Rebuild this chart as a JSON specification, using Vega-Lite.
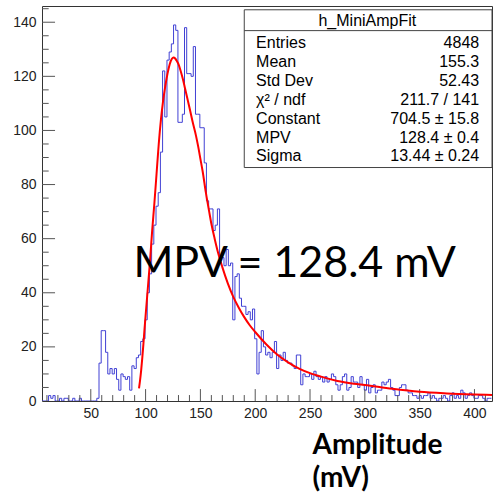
{
"$schema": "https://vega.github.io/schema/vega-lite/v6.json",
"width": 450, "height": 395,
"autosize": {"type": "none"},
"padding": {"left": 42, "top": 6, "right": 1, "bottom": 97},
"background": "white",
"config": {"view": {"stroke": "#333", "strokeWidth": 1}, "font": "Liberation Sans"},
"resolve": {"axis": {"x": "independent", "y": "independent"}},
"datasets": {
"hist": [
{"lo":5.5,"n":0},{"lo":7.5,"n":0},{"lo":9.5,"n":0},{"lo":11.5,"n":2},{"lo":13.5,"n":1},{"lo":15.5,"n":2},{"lo":17.5,"n":0},{"lo":19.5,"n":0},{"lo":21.5,"n":1},{"lo":23.5,"n":0},{"lo":25.5,"n":1},{"lo":27.5,"n":1},{"lo":29.5,"n":0},{"lo":31.5,"n":0},{"lo":33.5,"n":1},{"lo":35.5,"n":0},{"lo":37.5,"n":0},{"lo":39.5,"n":1},{"lo":41.5,"n":0},{"lo":43.5,"n":0},{"lo":45.5,"n":0},{"lo":47.5,"n":0},{"lo":49.5,"n":0},{"lo":51.5,"n":0},{"lo":53.5,"n":0},{"lo":55.5,"n":1},{"lo":57.5,"n":14},{"lo":59.5,"n":26},{"lo":61.5,"n":26},{"lo":63.5,"n":18},{"lo":65.5,"n":10},{"lo":67.5,"n":12},{"lo":69.5,"n":10},{"lo":71.5,"n":12},{"lo":73.5,"n":8},{"lo":75.5,"n":4},{"lo":77.5,"n":10},{"lo":79.5,"n":9},{"lo":81.5,"n":8},{"lo":83.5,"n":9},{"lo":85.5,"n":4},{"lo":87.5,"n":13},{"lo":89.5,"n":12},{"lo":91.5,"n":16},{"lo":93.5,"n":17},{"lo":95.5,"n":22},{"lo":97.5,"n":23},{"lo":99.5,"n":30},{"lo":101.5,"n":40},{"lo":103.5,"n":47},{"lo":105.5,"n":58},{"lo":107.5,"n":65},{"lo":109.5,"n":72},{"lo":111.5,"n":77},{"lo":113.5,"n":92},{"lo":115.5,"n":122},{"lo":117.5,"n":105},{"lo":119.5,"n":126},{"lo":121.5,"n":129},{"lo":123.5,"n":132},{"lo":125.5,"n":139},{"lo":127.5,"n":137},{"lo":129.5,"n":103},{"lo":131.5,"n":103},{"lo":133.5,"n":106},{"lo":135.5,"n":138},{"lo":137.5,"n":121},{"lo":139.5,"n":121},{"lo":141.5,"n":120},{"lo":143.5,"n":131},{"lo":145.5,"n":106},{"lo":147.5,"n":106},{"lo":149.5,"n":101},{"lo":151.5,"n":101},{"lo":153.5,"n":88},{"lo":155.5,"n":74},{"lo":157.5,"n":71},{"lo":159.5,"n":71},{"lo":161.5,"n":63},{"lo":163.5,"n":65},{"lo":165.5,"n":71},{"lo":167.5,"n":52},{"lo":169.5,"n":53},{"lo":171.5,"n":50},{"lo":173.5,"n":56},{"lo":175.5,"n":50},{"lo":177.5,"n":51},{"lo":179.5,"n":30},{"lo":181.5,"n":46},{"lo":183.5,"n":47},{"lo":185.5,"n":38},{"lo":187.5,"n":35},{"lo":189.5,"n":35},{"lo":191.5,"n":32},{"lo":193.5,"n":33},{"lo":195.5,"n":30},{"lo":197.5,"n":34},{"lo":199.5,"n":23},{"lo":201.5,"n":10},{"lo":203.5,"n":18},{"lo":205.5,"n":26},{"lo":207.5,"n":20},{"lo":209.5,"n":17},{"lo":211.5,"n":18},{"lo":213.5,"n":16},{"lo":215.5,"n":18},{"lo":217.5,"n":22},{"lo":219.5,"n":12},{"lo":221.5,"n":17},{"lo":223.5,"n":15},{"lo":225.5,"n":18},{"lo":227.5,"n":15},{"lo":229.5,"n":14},{"lo":231.5,"n":14},{"lo":233.5,"n":13},{"lo":235.5,"n":12},{"lo":237.5,"n":17},{"lo":239.5,"n":17},{"lo":241.5,"n":6},{"lo":243.5,"n":10},{"lo":245.5,"n":9},{"lo":247.5,"n":9},{"lo":249.5,"n":10},{"lo":251.5,"n":8},{"lo":253.5,"n":11},{"lo":255.5,"n":9},{"lo":257.5,"n":8},{"lo":259.5,"n":9},{"lo":261.5,"n":7},{"lo":263.5,"n":9},{"lo":265.5,"n":7},{"lo":267.5,"n":8},{"lo":269.5,"n":10},{"lo":271.5,"n":9},{"lo":273.5,"n":6},{"lo":275.5,"n":4},{"lo":277.5,"n":6},{"lo":279.5,"n":9},{"lo":281.5,"n":10},{"lo":283.5,"n":4},{"lo":285.5,"n":5},{"lo":287.5,"n":9},{"lo":289.5,"n":7},{"lo":291.5,"n":7},{"lo":293.5,"n":5},{"lo":295.5,"n":9},{"lo":297.5,"n":6},{"lo":299.5,"n":4},{"lo":301.5,"n":8},{"lo":303.5,"n":3},{"lo":305.5,"n":5},{"lo":307.5,"n":6},{"lo":309.5,"n":3},{"lo":311.5,"n":4},{"lo":313.5,"n":4},{"lo":315.5,"n":7},{"lo":317.5,"n":6},{"lo":319.5,"n":7},{"lo":321.5,"n":8},{"lo":323.5,"n":5},{"lo":325.5,"n":4},{"lo":327.5,"n":2},{"lo":329.5,"n":2},{"lo":331.5,"n":5},{"lo":333.5,"n":6},{"lo":335.5,"n":6},{"lo":337.5,"n":4},{"lo":339.5,"n":3},{"lo":341.5,"n":3},{"lo":343.5,"n":2},{"lo":345.5,"n":2},{"lo":347.5,"n":1},{"lo":349.5,"n":2},{"lo":351.5,"n":1},{"lo":353.5,"n":2},{"lo":355.5,"n":2},{"lo":357.5,"n":3},{"lo":359.5,"n":1},{"lo":361.5,"n":2},{"lo":363.5,"n":1},{"lo":365.5,"n":0},{"lo":367.5,"n":1},{"lo":369.5,"n":1},{"lo":371.5,"n":2},{"lo":373.5,"n":1},{"lo":375.5,"n":0},{"lo":377.5,"n":2},{"lo":379.5,"n":3},{"lo":381.5,"n":1},{"lo":383.5,"n":2},{"lo":385.5,"n":1},{"lo":387.5,"n":4},{"lo":389.5,"n":3},{"lo":391.5,"n":1},{"lo":393.5,"n":2},{"lo":395.5,"n":3},{"lo":397.5,"n":2},{"lo":399.5,"n":1},{"lo":401.5,"n":1},{"lo":403.5,"n":2},{"lo":405.5,"n":2},{"lo":407.5,"n":1},{"lo":409.5,"n":0},{"lo":411.5,"n":1},{"lo":413.5,"n":1},{"lo":415.5,"n":1}
],
"fit": [
{"x":94,"f":4.7},{"x":95,"f":7.8},{"x":96,"f":11.5},{"x":97,"f":16},{"x":98,"f":21},{"x":99,"f":26.5},{"x":100,"f":31.5},{"x":102,"f":41.5},{"x":104,"f":51.5},{"x":106,"f":63},{"x":108,"f":73},{"x":110,"f":84},{"x":112,"f":95},{"x":114,"f":104},{"x":116,"f":111},{"x":118,"f":116.5},{"x":120,"f":121},{"x":122,"f":124.5},{"x":124,"f":126.5},{"x":125.5,"f":127},{"x":127,"f":126.6},{"x":128,"f":126},{"x":130,"f":124.5},{"x":132,"f":122},{"x":134,"f":119},{"x":136,"f":115.5},{"x":138,"f":112},{"x":140,"f":108.5},{"x":143,"f":103},{"x":146,"f":98},{"x":148,"f":94},{"x":150,"f":89.5},{"x":152,"f":85},{"x":155,"f":77},{"x":158,"f":70},{"x":160,"f":65.5},{"x":163,"f":60},{"x":166,"f":55},{"x":170,"f":49.5},{"x":175,"f":43.5},{"x":180,"f":38.5},{"x":185,"f":34.5},{"x":190,"f":31},{"x":195,"f":28},{"x":200,"f":25.5},{"x":210,"f":21},{"x":220,"f":17.2},{"x":230,"f":14.3},{"x":240,"f":12},{"x":250,"f":10.3},{"x":260,"f":9},{"x":275,"f":7.4},{"x":290,"f":6.4},{"x":300,"f":5.9},{"x":325,"f":4.5},{"x":350,"f":3.4},{"x":375,"f":2.8},{"x":400,"f":2.4},{"x":416,"f":2.2}
],
"xmajor": [{"v":50},{"v":100},{"v":150},{"v":200},{"v":250},{"v":300},{"v":350},{"v":400}],
"xminor": [{"v":10},{"v":20},{"v":30},{"v":40},{"v":60},{"v":70},{"v":80},{"v":90},{"v":110},{"v":120},{"v":130},{"v":140},{"v":160},{"v":170},{"v":180},{"v":190},{"v":210},{"v":220},{"v":230},{"v":240},{"v":260},{"v":270},{"v":280},{"v":290},{"v":310},{"v":320},{"v":330},{"v":340},{"v":360},{"v":370},{"v":380},{"v":390},{"v":410}],
"ymajor": [{"v":20},{"v":40},{"v":60},{"v":80},{"v":100},{"v":120},{"v":140}],
"yminor": [{"v":5},{"v":10},{"v":15},{"v":25},{"v":30},{"v":35},{"v":45},{"v":50},{"v":55},{"v":65},{"v":70},{"v":75},{"v":85},{"v":90},{"v":95},{"v":105},{"v":110},{"v":115},{"v":125},{"v":130},{"v":135},{"v":145}],
"stats": [
{"i":0,"stat":"Entries","value":"4848"},
{"i":1,"stat":"Mean","value":"155.3"},
{"i":2,"stat":"Std Dev","value":"52.43"},
{"i":3,"stat":"χ² / ndf","value":"211.7 / 141"},
{"i":4,"stat":"Constant","value":"704.5 ± 15.8"},
{"i":5,"stat":"MPV","value":"128.4 ± 0.4"},
{"i":6,"stat":"Sigma","value":"13.44 ± 0.24"}
]
},
"layer": [
{"data": {"name": "hist"},
 "mark": {"type": "line", "interpolate": "step-after", "color": "#4040d4", "strokeWidth": 1, "clip": true},
 "encoding": {
  "x": {"field": "lo", "type": "quantitative", "scale": {"domain": [5.5, 416], "nice": false, "zero": false},
   "axis": {"orient": "bottom", "domain": false, "ticks": false, "values": [50,100,150,200,250,300,350,400],
    "grid": false, "labelFont": "Liberation Sans", "labelFontSize": 14, "labelColor": "#222", "labelPadding": 5,
    "labelOverlap": false, "labelFlush": false,
    "title": ["Amplitude", "(mV)"], "titleFont": "Lato", "titleFontWeight": "bold", "titleFontSize": 28, "titleColor": "black",
    "titleAlign": "left", "titleAnchor": "start", "titleX": 270, "titleY": 52, "titleBaseline": "alphabetic", "titleLineHeight": 33.5}},
  "y": {"field": "n", "type": "quantitative", "scale": {"domain": [0, 146], "nice": false},
   "axis": {"orient": "left", "domain": false, "ticks": false, "values": [0,20,40,60,80,100,120,140],
    "grid": false, "labelFont": "Liberation Sans", "labelFontSize": 14, "labelColor": "#222", "labelPadding": 6,
    "labelOverlap": false, "labelFlush": false, "title": null}}
 }},
{"data": {"name": "xmajor"}, "mark": {"type": "rule", "color": "#555", "strokeWidth": 1},
 "encoding": {"x": {"field": "v", "type": "quantitative", "axis": null}, "y": {"datum": 0, "axis": null}, "y2": {"datum": 4.4}}},
{"data": {"name": "xminor"}, "mark": {"type": "rule", "color": "#555", "strokeWidth": 1},
 "encoding": {"x": {"field": "v", "type": "quantitative", "axis": null}, "y": {"datum": 0, "axis": null}, "y2": {"datum": 2.2}}},
{"data": {"name": "ymajor"}, "mark": {"type": "rule", "color": "#555", "strokeWidth": 1},
 "encoding": {"y": {"field": "v", "type": "quantitative", "axis": null}, "x": {"datum": 5.5, "axis": null}, "x2": {"datum": 17.4}}},
{"data": {"name": "yminor"}, "mark": {"type": "rule", "color": "#555", "strokeWidth": 1},
 "encoding": {"y": {"field": "v", "type": "quantitative", "axis": null}, "x": {"datum": 5.5, "axis": null}, "x2": {"datum": 11.6}}},
{"data": {"name": "fit"},
 "mark": {"type": "line", "color": "#ff0000", "strokeWidth": 2, "interpolate": "monotone"},
 "encoding": {"x": {"field": "x", "type": "quantitative", "axis": null}, "y": {"field": "f", "type": "quantitative", "axis": null}}},
{"data": {"values": [{}]},
 "mark": {"type": "rect", "fill": "white", "stroke": "#444", "strokeWidth": 1},
 "encoding": {"x": {"datum": 190, "axis": null}, "x2": {"datum": 416}, "y": {"datum": 86.3, "axis": null}, "y2": {"datum": 144.6}}},
{"data": {"values": [{}]},
 "mark": {"type": "rule", "stroke": "#444", "strokeWidth": 1},
 "encoding": {"x": {"datum": 190, "axis": null}, "x2": {"datum": 416}, "y": {"datum": 136.9, "axis": null}}},
{"data": {"values": [{}]},
 "mark": {"type": "text", "align": "center", "baseline": "middle", "font": "Liberation Sans", "fontSize": 16, "color": "black"},
 "encoding": {"x": {"datum": 302.3, "axis": null}, "y": {"datum": 140.6, "axis": null}, "text": {"value": "h_MiniAmpFit"}}},
{"data": {"name": "stats"},
 "mark": {"type": "text", "align": "left", "baseline": "middle", "font": "Liberation Sans", "fontSize": 16, "color": "black"},
 "encoding": {"x": {"datum": 200.8, "axis": null}, "y": {"datum": 132.3, "axis": null},
  "yOffset": {"field": "i", "type": "quantitative", "scale": {"domain": [0, 6], "range": [0, 113.4]}},
  "text": {"field": "stat"}}},
{"data": {"name": "stats"},
 "mark": {"type": "text", "align": "right", "baseline": "middle", "font": "Liberation Sans", "fontSize": 16, "color": "black"},
 "encoding": {"x": {"datum": 404.3, "axis": null}, "y": {"datum": 132.3, "axis": null},
  "yOffset": {"field": "i", "type": "quantitative", "scale": {"domain": [0, 6], "range": [0, 113.4]}},
  "text": {"field": "value"}}},
{"data": {"values": [{}]},
 "mark": {"type": "text", "align": "left", "baseline": "alphabetic", "font": "Lato", "fontSize": 43, "color": "black"},
 "encoding": {"x": {"datum": 88.9, "axis": null}, "y": {"datum": 45.8, "axis": null}, "text": {"value": "MPV = 128.4 mV"}}}
]
}
